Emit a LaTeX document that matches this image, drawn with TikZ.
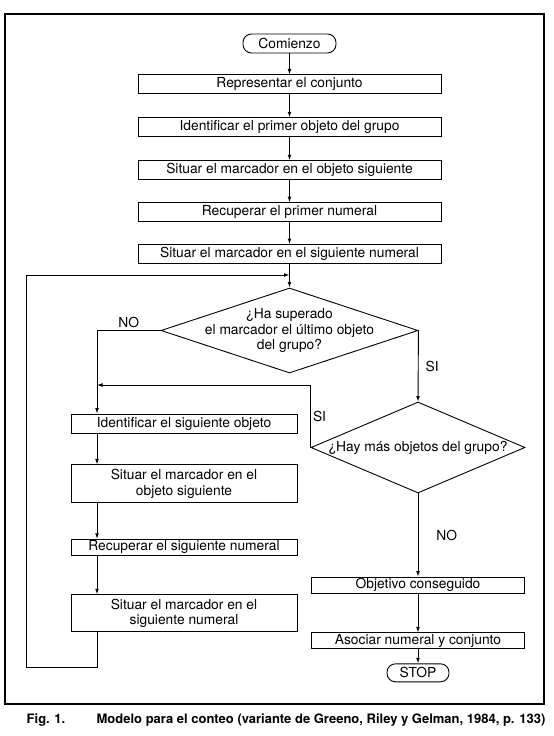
\documentclass[tikz,border=0pt]{standalone}
\usepackage{fontspec}
\setmainfont{TeX Gyre Heros}
\usetikzlibrary{arrows.meta,positioning,shapes.geometric}

\begin{document}
\begin{tikzpicture}[
  x=1pt, y=-1pt,
  font=\fontsize{13.8}{15.5}\selectfont,
  >={Latex[length=5.5pt,width=3.8pt]},
  stepbox/.style={
    draw=black,
    line width=0.9pt,
    align=center,
    inner sep=1pt,
    minimum height=19pt
  },
  mainbox/.style={
    stepbox,
    minimum width=303pt
  },
  leftbox/.style={
    stepbox,
    minimum width=226pt
  },
  rightbox/.style={
    stepbox,
    minimum width=213pt,
    minimum height=16pt
  },
  terminal/.style={
    draw=black,
    line width=0.9pt,
    rounded corners=8.5pt,
    inner sep=1pt,
    minimum height=19pt
  },
  decision/.style={
    diamond,
    draw=black,
    line width=0.9pt,
    inner sep=0pt
  },
  flow/.style={
    ->,
    line width=0.9pt,
    draw=black
  },
  tag/.style={
    inner sep=2pt
  }
]
\useasboundingbox (0,0) rectangle (554,736);

% Outer frame
\draw[line width=1.2pt] (5,14) rectangle (544,704);

% Main column
\node[terminal,minimum width=93pt] (start) at (289.5,43.5) {Comienzo};
\node[mainbox,below=21pt of start] (repr) {Representar el conjunto};
\node[mainbox,below=23pt of repr] (idprim) {Identificar el primer objeto del grupo};
\node[mainbox,below=23pt of idprim] (sitobj) {Situar el marcador en el objeto siguiente};
\node[mainbox,below=22pt of sitobj] (recprim) {Recuperar el primer numeral};
\node[mainbox,below=22pt of recprim] (sitnum) {Situar el marcador en el siguiente numeral};

\draw[flow] (start) -- (repr);
\draw[flow] (repr) -- (idprim);
\draw[flow] (idprim) -- (sitobj);
\draw[flow] (sitobj) -- (recprim);
\draw[flow] (recprim) -- (sitnum);

% Decisions
\coordinate (join) at (289.5,275);
\node[decision,minimum width=257pt,minimum height=85pt,
  label={[name=lasttext,align=center]center:{¿Ha superado\\el marcador el último objeto\\del grupo?}}]
  (last) at (289.5,330.5) {};
\node[decision,minimum width=214pt,minimum height=91pt,
  label={[name=moretext]center:{¿Hay más objetos del grupo?}}]
  (more) at (418,447.5) {};

\draw[flow] (sitnum) -- (last);
\draw[flow] (last.east) -- node[tag,right=5pt] {SI} (more.north);

% Left column (counting loop)
\coordinate (lx) at (97,385);
\node[leftbox] (idsig) at (184,423.5) {Identificar el siguiente objeto};
\node[leftbox,minimum height=38pt,below=31pt of idsig] (sitobjsig) {Situar el marcador en el\\objeto siguiente};
\node[leftbox,minimum height=16pt,below=35.5pt of sitobjsig] (recsig) {Recuperar el siguiente numeral};
\node[leftbox,minimum height=37pt,below=38.5pt of recsig] (sitnumsig) {Situar el marcador en el\\siguiente numeral};

\draw[flow] (last.west) -| node[tag,pos=0.25,above] {NO} (idsig.north -| lx);
\draw[flow] (more.west) |- node[tag,pos=0.25,right] {SI} (lx);
\draw[flow] (idsig.south -| lx) -- (sitobjsig.north -| lx);
\draw[flow] (sitobjsig.south -| lx) -- (recsig.north -| lx);
\draw[flow] (recsig.south -| lx) -- (sitnumsig.north -| lx);

\coordinate (loopb) at (26,667);
\draw[flow] (sitnumsig.south -| lx) |- (loopb) |- (join);

% Right column (end)
\node[rightbox] (goal) at (418,585) {Objetivo conseguido};
\node[rightbox,below=39pt of goal] (assoc) {Asociar numeral y conjunto};
\node[terminal,minimum width=62pt,minimum height=18pt,below=14pt of assoc] (stop) {STOP};

\draw[flow] (more) -- node[tag,right=16pt] {NO} (goal);
\draw[flow] (goal) -- (assoc);
\draw[flow] (assoc) -- (stop);

% Caption
\node[anchor=west,inner sep=0pt,font=\bfseries\fontsize{13}{15}\selectfont] (caption) at (26.5,720)
  {Fig.\hspace{4.5pt}1.\hspace{31.5pt}Modelo para el conteo (variante de Greeno, Riley y Gelman, 1984, p. 133)};

\end{tikzpicture}
\end{document}
